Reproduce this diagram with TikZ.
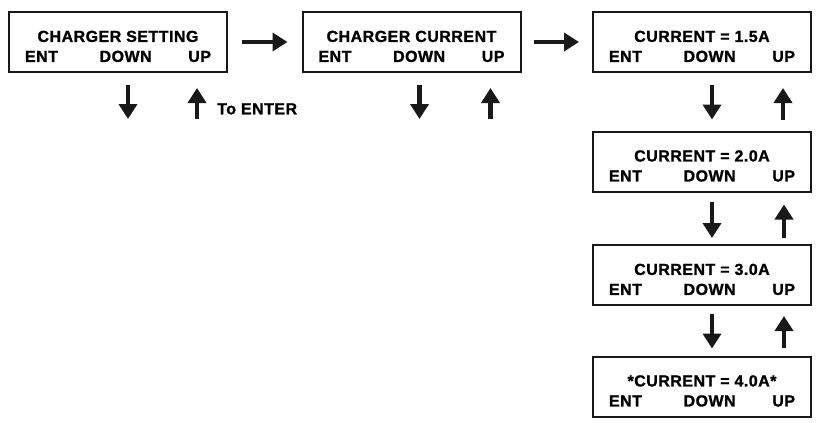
\documentclass[tikz,border=0pt]{standalone}
\usepackage{fontspec}
\setmainfont{Liberation Sans}
\newfontfamily\heavyfont[FakeBold=1.2,LetterSpace=3]{Liberation Sans Bold}
\usetikzlibrary{arrows.meta}
\newcommand{\keyrow}{\makebox[186pt]{ENT\hfill\hspace{5pt}DOWN\hfill UP}}

\begin{document}
\begin{tikzpicture}[x=1pt,y=-1pt,
  menubox/.style={draw=black!90, line width=2pt, minimum width=218pt, minimum height=60pt,
    inner sep=0pt, align=center, font=\heavyfont\fontsize{16}{20}\selectfont},
  bigarrow/.style={-{Triangle[length=15pt,width=18pt]}, line width=4.6pt, black!90},
  gap/.style 2 args={shorten <=#1pt, shorten >=#2pt}]
\useasboundingbox (0,0) rectangle (820,423);
\node[menubox] (b1) at (118,42) {\rule{0pt}{20pt}CHARGER SETTING\\\keyrow};
\node[menubox] (b2) at (411.5,42) {\rule{0pt}{20pt}CHARGER CURRENT\\\keyrow};
\node[menubox] (b3) at (702,42) {\rule{0pt}{20pt}CURRENT = 1.5A\\\keyrow};
\node[menubox] (b4) at (702,161.5) {\rule{0pt}{20pt}CURRENT = 2.0A\\\keyrow};
\node[menubox] (b5) at (702,275) {\rule{0pt}{20pt}CURRENT = 3.0A\\\keyrow};
\node[menubox] (b6) at (702,386.5) {\rule{0pt}{20pt}*CURRENT = 4.0A*\\\keyrow};
\coordinate (b1next) at (118,130); \coordinate (b2next) at (411.5,130);
\draw[bigarrow, gap={14}{14}] (b1) -- (b2);
\draw[bigarrow, gap={12}{13}] (b2) -- (b3);
% down / up under the first two boxes
\draw[bigarrow, gap={12}{11}] ([xshift=10pt]b1.south) -- ([xshift=10pt]b1next);
\draw[bigarrow, gap={11}{15}] ([xshift=79pt]b1next) -- ([xshift=79pt]b1.south);
\draw[bigarrow, gap={12}{11}] ([xshift=8pt]b2.south) -- ([xshift=8pt]b2next);
\draw[bigarrow, gap={11}{15}] ([xshift=79pt]b2next) -- ([xshift=79pt]b2.south);
\node[font=\heavyfont\fontsize{16}{20}\selectfont, inner sep=0pt, anchor=base west] (enter) at (217,114.3) {To ENTER};
% current column
\draw[bigarrow, gap={12}{11}] ([xshift=10pt]b3.south) -- ([xshift=10pt]b4.north);
\draw[bigarrow, gap={11}{15}] ([xshift=81pt]b4.north) -- ([xshift=81pt]b3.south);
\draw[bigarrow, gap={9}{6}] ([xshift=10pt]b4.south) -- ([xshift=10pt]b5.north);
\draw[bigarrow, gap={6}{12}] ([xshift=82pt]b5.north) -- ([xshift=82pt]b4.south);
\draw[bigarrow, gap={8}{7}] ([xshift=10pt]b5.south) -- ([xshift=10pt]b6.north);
\draw[bigarrow, gap={8}{10}] ([xshift=82pt]b6.north) -- ([xshift=82pt]b5.south);
\end{tikzpicture}
\end{document}
